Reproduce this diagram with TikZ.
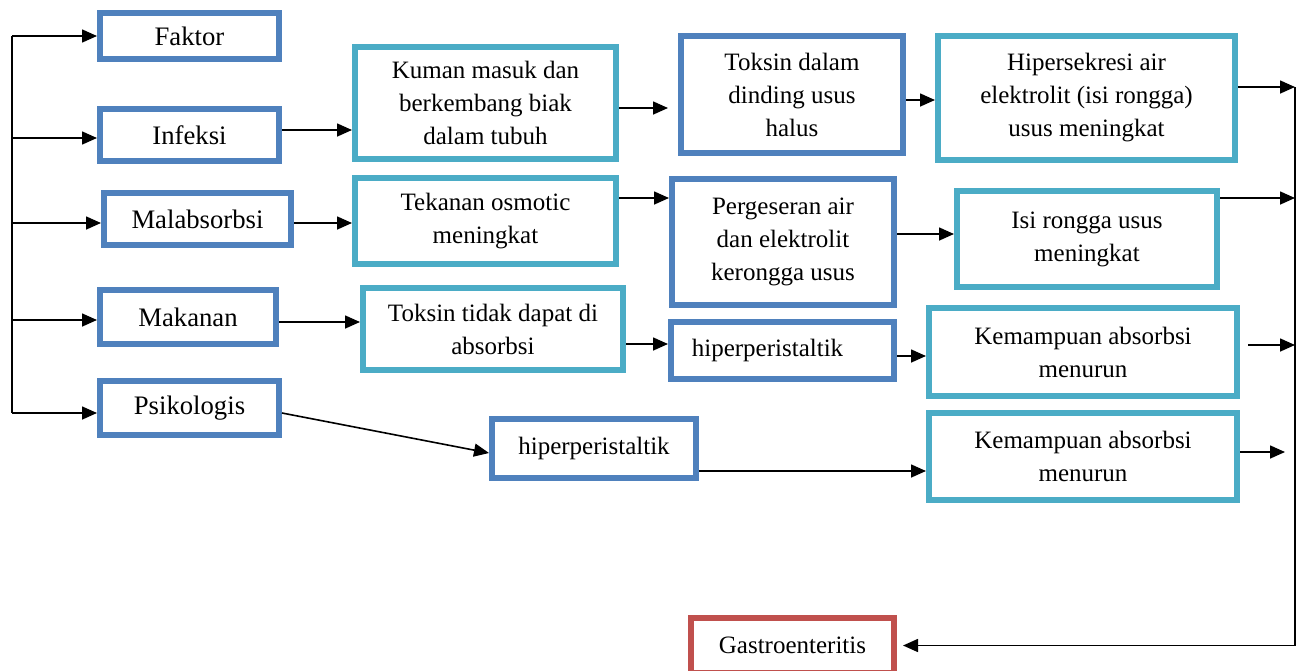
\documentclass[tikz,border=0pt]{standalone}
\usepackage{fontspec}
\setmainfont{Liberation Serif}
\usetikzlibrary{arrows.meta}
\definecolor{kotakbiru}{HTML}{4F81BD}
\definecolor{kotaktosca}{HTML}{4BACC6}
\definecolor{kotakmerah}{HTML}{C0504D}

\begin{document}
\begin{tikzpicture}
        [x=1pt, y=-1pt,
        kotak/.style={rectangle, draw, line width=6pt, fill=white, inner sep=0pt, align=center, font=\fontsize{25}{33}\selectfont},
        faktor/.style={kotak, draw=kotakbiru, font=\fontsize{26.7}{33}\selectfont},
        biru/.style={kotak, draw=kotakbiru},
        tosca/.style={kotak, draw=kotaktosca},
        merah/.style={kotak, draw=kotakmerah},
        garis/.style={line width=1.6pt},
        panah/.style={garis, -{Triangle[length=15pt, width=13pt]}}]

        \useasboundingbox (0,0) rectangle (1298,670);

        % Kolom faktor penyebab
        \node[faktor, minimum width=179pt, minimum height=46pt] (faktorutama) at (189.5,36) {Faktor};
        \node[faktor, minimum width=179pt, minimum height=52pt] (infeksi) at (189.5,135) {Infeksi};
        \node[faktor, minimum width=187pt, minimum height=52pt] (malabsorbsi) at (197.5,219) {Malabsorbsi};
        \node[faktor, minimum width=176pt, minimum height=54pt] (makanan) at (188,317) {Makanan};
        \node[faktor, minimum width=179pt, minimum height=54pt] (psikologis) at (189.5,408) {Psikologis};

        % Kolom kedua
        \node[tosca, minimum width=261pt, minimum height=112pt] (kuman) at (485.5,103) {Kuman masuk dan\\berkembang biak\\dalam tubuh};
        \node[tosca, minimum width=261pt, minimum height=86pt] (tekanan) at (485.5,221) {Tekanan osmotic\\meningkat};
        \node[tosca, minimum width=260pt, minimum height=82pt] (ttidak) at (493,329) {Toksin tidak dapat di\\absorbsi};
        \node[biru, minimum width=204pt, minimum height=59pt] (hiperB) at (594,448.5) {hiperperistaltik};

        % Kolom ketiga
        \node[biru, minimum width=222pt, minimum height=117pt] (tdalam) at (792,94.5) {Toksin dalam\\dinding usus\\halus};
        \node[biru, minimum width=222pt, minimum height=126pt] (pergeseran) at (783,242) {Pergeseran air\\dan elektrolit\\kerongga usus};
        \node[biru, minimum width=223pt, minimum height=57pt] (hiperA) at (782.5,350.5) {hiperperistaltik\hspace*{30pt}};

        % Kolom keempat
        \node[tosca, minimum width=297pt, minimum height=124pt] (hipersekresi) at (1086.5,98) {Hipersekresi air\\elektrolit (isi rongga)\\usus meningkat};
        \node[tosca, minimum width=260pt, minimum height=96pt] (isirongga) at (1087,239) {Isi rongga usus\\meningkat};
        \node[tosca, minimum width=308pt, minimum height=88pt] (kemampuanA) at (1083,352) {Kemampuan absorbsi\\menurun};
        \node[tosca, minimum width=308pt, minimum height=87pt] (kemampuanB) at (1083,456.5) {Kemampuan absorbsi\\menurun};

        % Hasil akhir
        \node[merah, minimum width=203pt, minimum height=55pt] (gastro) at (792.5,645.5) {Gastroenteritis};

        % Garis kiri ke semua faktor
        \coordinate (kiri) at (12,36);
        \coordinate (kiribawah) at (12,413);
        \draw[garis] (kiri) -- (kiribawah);
        \foreach \n/\s in {faktorutama/0, infeksi/-3, malabsorbsi/-4, makanan/-3, psikologis/-5}
            \draw[panah] ([yshift=\s pt]\n.west) coordinate (ujung) (kiri |- ujung) -- (ujung);

        % Alur infeksi
        \draw[panah] ([yshift=5pt]infeksi.east) coordinate (p1) -- (p1 -| kuman.west);
        \draw[panah, shorten >=10pt] ([yshift=-5pt]kuman.east) coordinate (p2) -- (p2 -| tdalam.west);
        \draw[panah] ([yshift=-5.5pt]tdalam.east) coordinate (p3) -- (p3 -| hipersekresi.west);

        % Alur malabsorbsi
        \draw[panah] ([yshift=-4pt]malabsorbsi.east) coordinate (p4) -- (p4 -| tekanan.west);
        \draw[panah] ([yshift=23pt]tekanan.east) coordinate (p5) -- (p5 -| pergeseran.west);
        \draw[panah] ([yshift=8pt]pergeseran.east) coordinate (p6) -- (p6 -| isirongga.west);

        % Alur makanan
        \draw[panah] ([yshift=-5pt]makanan.east) coordinate (p7) -- (p7 -| ttidak.west);
        \draw[panah] ([yshift=-15pt]ttidak.east) coordinate (p8) -- (p8 -| hiperA.west);
        \draw[panah] ([yshift=-5.5pt]hiperA.east) coordinate (p9) -- (p9 -| kemampuanA.west);

        % Alur psikologis
        \draw[panah] ([yshift=-5pt]psikologis.east) -- ([yshift=-4.5pt]hiperB.west);
        \draw[panah] ([yshift=-22.5pt]hiperB.east) coordinate (p10) -- (p10 -| kemampuanB.west);

        % Garis kanan menuju gastroenteritis
        \coordinate (kanan) at (1295,87);
        \draw[panah] ([yshift=11pt]hipersekresi.east) coordinate (q1) -- (q1 -| kanan);
        \draw[panah] ([yshift=41pt]isirongga.east) coordinate (q2) -- (q2 -| kanan);
        \draw[panah, shorten <=8pt] ([yshift=7pt]kemampuanA.east) coordinate (q3) -- (q3 -| kanan);
        \draw[panah, shorten >=10pt] ([yshift=4.5pt]kemampuanB.east) coordinate (q4) -- (q4 -| kanan);
        \draw[panah, shorten >=6pt] (kanan) |- (gastro.east);

    \end{tikzpicture}
\end{document}
